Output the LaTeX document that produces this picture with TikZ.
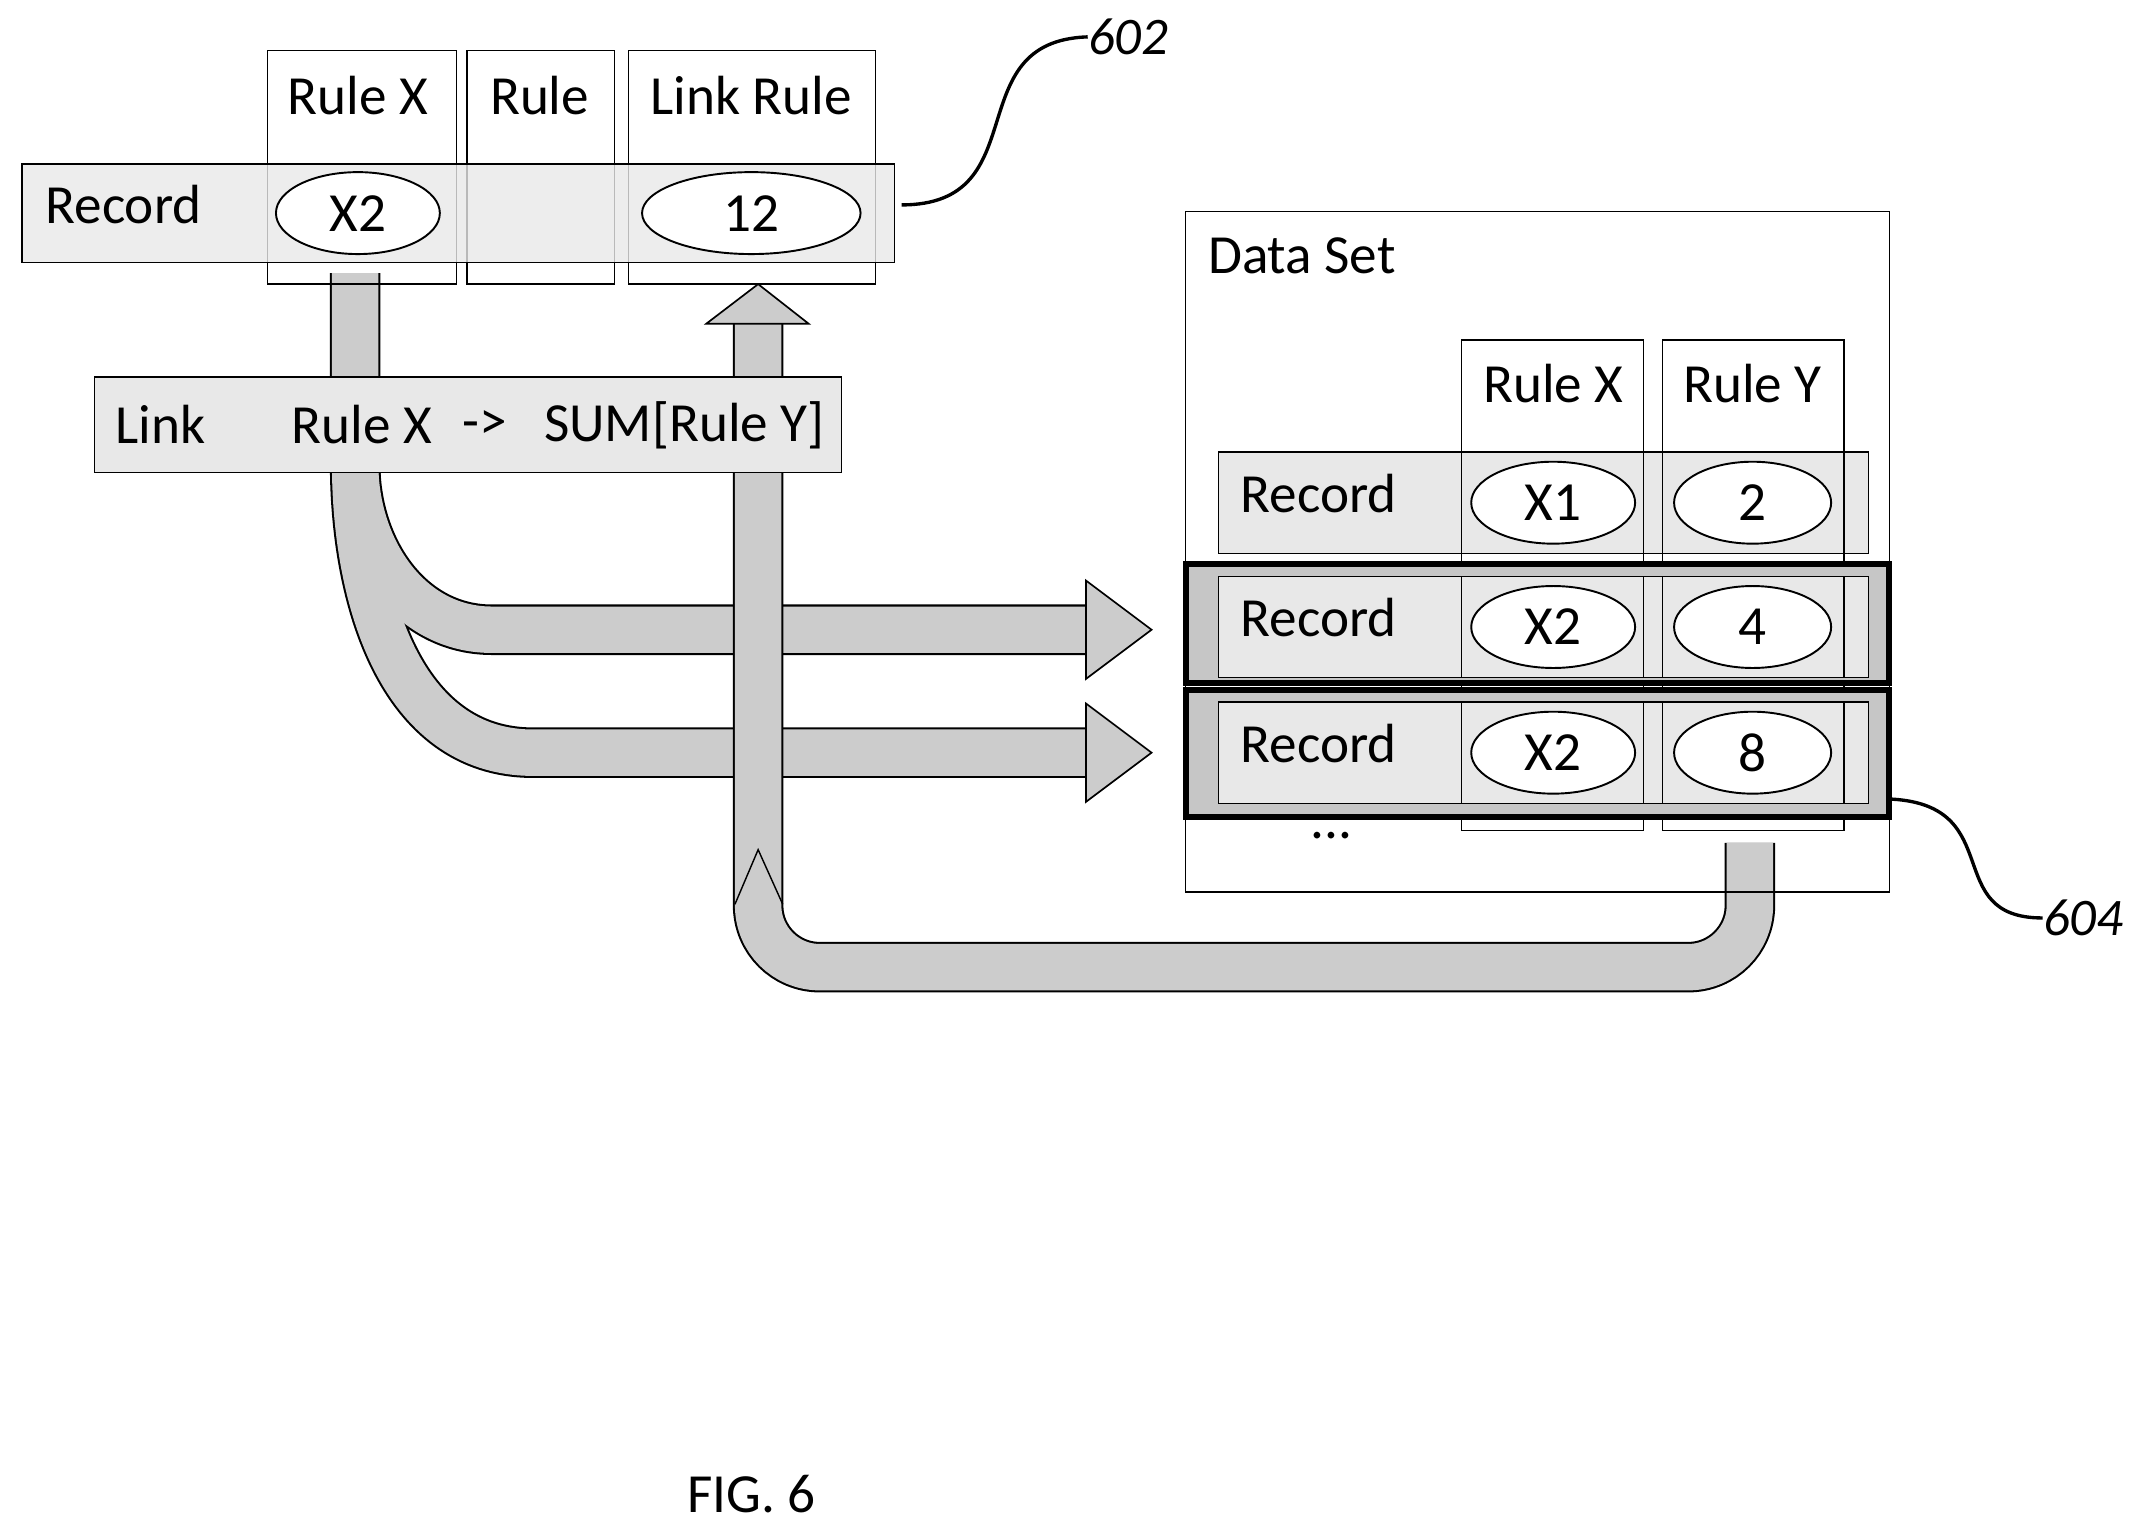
\documentclass[tikz,border=0pt]{standalone}
\usepackage{fontspec}
\setmainfont{Carlito}
\begin{document}
\begin{tikzpicture}[x=0.02cm,y=-0.02cm,
  txt/.style={font=\fontsize{23}{26}\selectfont,inner sep=0pt},
  lbl/.style={font=\fontsize{22}{26}\selectfont\itshape,inner sep=0pt},
  bar/.style={draw=black,line width=0.6pt,fill=gray!18},
  col/.style={draw=black,line width=0.6pt},
  ell/.style={draw=black,line width=0.8pt,fill=white,ellipse,minimum width=2.4cm,minimum height=1.2cm},
  shaftout/.style={draw=black,line width=0.74cm,line cap=butt},
  shaftin/.style={draw=gray!40,line width=0.68cm,line cap=butt},
  head/.style={draw=black,line width=0.7pt,fill=gray!40}]
\useasboundingbox (0,0) rectangle (1560,1115);
\usetikzlibrary{shapes.geometric}
% arrows (behind)
\foreach \s in {shaftout,shaftin}{
  \draw[\s] (260,200) -- (260,340) to[out=-90,in=180] (390,551) -- (800,551);
  \draw[\s] (260,340) to[out=-90,in=180] (360,461) -- (800,461);
}
\draw[head] (795,425) -- (843,461) -- (795,497) -- cycle;
\draw[head] (795,515) -- (843,551) -- (795,587) -- cycle;
\foreach \s in {shaftout,shaftin}
  \draw[\s,rounded corners=0.9cm] (1281,617) -- (1281,708) -- (555,708) -- (555,232);
\draw[head] (517,237) -- (555,208) -- (592,237) -- cycle;
\draw[line width=0.6pt] (538,662) -- (555,622) -- (573,662);
% top record
\draw[col] (196,37) rectangle (334,208);
\draw[col] (342,37) rectangle (450,208);
\draw[col] (460,37) rectangle (641,208);
\draw[bar,fill opacity=0.8] (16,120) rectangle (655,192);
\node[txt] (rx) at (262,70) {Rule X};
\node[txt] (r) at (395,70) {Rule};
\node[txt] (lr) at (550,70) {Link Rule};
\node[txt,anchor=west] (rec0) at (33,150) {Record};
\node[ell] (x2t) at (262,156) {}; \node[txt] at (x2t) {X2};
\node[ell,minimum width=3.2cm] (v12) at (550,156) {}; \node[txt] at (v12) {12};
% link bar
\draw[bar] (69,276) rectangle (616,346);
\node[txt,anchor=west] (lk) at (84,311) {Link};
\node[txt,anchor=west] (lrx) at (213,311) {Rule X};
\node[txt,anchor=west] (ar) at (338,311) {->};
\node[txt,anchor=west] (sum) at (398,311) {SUM[Rule Y]};
% data set
\draw[col] (868,155) rectangle (1383,653);
\node[txt,anchor=west] (ds) at (884,187) {Data Set};
\draw[col] (1070,249) rectangle (1203,608);
\draw[col] (1217,249) rectangle (1350,608);
\node[txt] (drx) at (1137,281) {Rule X};
\node[txt] (dry) at (1283,281) {Rule Y};
\draw[line width=2.5pt,fill=gray!45] (868,413) rectangle (1383,500);
\draw[line width=2.5pt,fill=gray!45] (868,505) rectangle (1383,598);
\foreach \y/\a/\b/\n in {368/X1/2/1,459/X2/4/2,551/X2/8/3}{
  \draw[bar] (892,\y-37) rectangle (1368,\y+37);
  \draw[col] (1070,\y-37) -- (1070,\y+37) (1203,\y-37) -- (1203,\y+37)
             (1217,\y-37) -- (1217,\y+37) (1350,\y-37) -- (1350,\y+37);
  \node[txt,anchor=west] (rec\n) at (908,\y-7) {Record};
  \node[ell] (ea\n) at (1137,\y) {}; \node[txt] at (ea\n) {\a};
  \node[ell,minimum width=2.3cm] (eb\n) at (1283,\y) {}; \node[txt] at (eb\n) {\b};
}
\node[txt] (dots) at (975,612) {...};
% labels
\node[lbl] (l602) at (826,27) {602};
\draw[line width=1.4pt] (660,150) .. controls (760,150) and (700,30) .. (l602.west);
\node[lbl] (l604) at (1525,672) {604};
\draw[line width=1.4pt] (1385,585) .. controls (1470,590) and (1420,672) .. (l604.west);
\node[txt] (fig) at (550,1094) {FIG. 6};
\end{tikzpicture}
\end{document}
